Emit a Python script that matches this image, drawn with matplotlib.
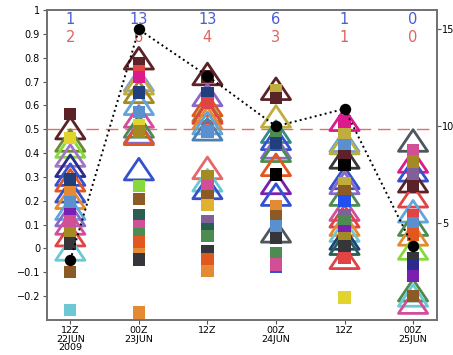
import matplotlib
matplotlib.use("Agg")
import matplotlib.pyplot as plt
from matplotlib.path import Path
import numpy as np

# verification times
times = ['12Z\n22JUN\n2009', '00Z\n23JUN', '12Z', '00Z\n24JUN', '12Z', '00Z\n25JUN']

# counts printed along the top
count_blue = [1, 13, 13, 6, 1, 0]
count_red = [2, 6, 4, 3, 1, 0]

# dotted-line series (right axis)
dot_vals = [3.1, 15.0, 12.6, 10.0, 10.9, 3.8]

pal = {
    'maroon': '#5b2228', 'yellow': '#e2d42e', 'olive': '#a38a22', 'khaki': '#bfae3e',
    'navy': '#203f7c', 'orange': '#e48a32', 'steel': '#5a8fd0', 'purple': '#7a1fb0',
    'violet': '#8a68c8', 'pink': '#d24f98', 'magenta': '#dd1a8c', 'dgray': '#35363a',
    'brown': '#8c5a24', 'cyan': '#6cc8d2', 'lgreen': '#86d83c', 'green': '#4c8c50',
    'teal': '#2b5e52', 'red': '#e04444', 'ored': '#e2561f', 'blue': '#3452d0',
    'lblue': '#62a4dc', 'gray': '#4e565e', 'black': '#000000', 'mauve': '#806098',
    'salmon': '#e46a6a', 'lav': '#a274c8', 'oliveg': '#6c8a34', 'indigo': '#2c2a8c',
    'slate': '#8aa6c0', 'slate2': '#5080b0', 'gold': '#e0b030', 'teal2': '#3a8a8a',
    'bblue': '#2050f0',
}

# open triangles, one list per time
tri_vals = [
    [0.505, 0.453, 0.428, 0.39, 0.347, 0.31, 0.286, 0.24, 0.213, 0.167, 0.14, 0.105, 0.056, -0.004],
    [0.798, 0.707, 0.693, 0.657, 0.607, 0.554, 0.512, 0.487, 0.481, 0.333],
    [0.732, 0.644, 0.602, 0.579, 0.57, 0.547, 0.526, 0.5, 0.338, 0.286, 0.254],
    [0.67, 0.554, 0.49, 0.46, 0.424, 0.41, 0.351, 0.275, 0.226, 0.072],
    [0.54, 0.452, 0.442, 0.382, 0.296, 0.275, 0.226, 0.163, 0.135, 0.10, 0.075, 0.042, 0.02, -0.039],
    [0.453, 0.365, 0.328, 0.282, 0.219, 0.156, 0.10, 0.059, 0.0, -0.175, -0.197, -0.227],
]
tri_cols = [
    ['maroon', 'oliveg', 'lgreen', 'lav', 'indigo', 'blue', 'ored', 'blue', 'orange', 'lblue',
     'violet', 'pink', 'red', 'cyan'],
    ['maroon', 'slate', 'khaki', 'olive', 'lblue', 'pink', 'green', 'violet', 'ored', 'blue'],
    ['maroon', 'violet', 'ored', 'olive', 'red', 'orange', 'lblue', 'slate2', 'salmon', 'cyan', 'blue'],
    ['maroon', 'khaki', 'teal2', 'blue', 'violet', 'green', 'ored', 'purple', 'blue', 'gray'],
    ['magenta', 'lblue', 'khaki', 'dgray', 'blue', 'violet', 'green', 'pink', 'red', 'orange',
     'cyan', 'navy', 'teal', 'red'],
    ['gray', 'magenta', 'blue', 'maroon', 'red', 'lblue', 'green', 'orange', 'lgreen', 'green',
     'cyan', 'pink'],
]

# filled squares, one list per time
sq_vals = [
    [0.565, 0.463, 0.289, 0.236, 0.194, 0.145, 0.114, 0.066, 0.021, -0.10, -0.258],
    [0.777, 0.746, 0.718, 0.654, 0.574, 0.519, 0.491, 0.261, 0.208, 0.142, 0.093, 0.059,
     -0.011, 0.028, -0.046, -0.269],
    [0.721, 0.651, 0.61, 0.491, 0.303, 0.261, 0.219, 0.181, 0.114, 0.08, 0.051, -0.011,
     -0.046, -0.095],
    [0.665, 0.63, 0.477, 0.442, 0.31, 0.177, 0.135, 0.093, 0.045, -0.018, -0.078, -0.067],
    [0.533, 0.48, 0.435, 0.386, 0.351, 0.275, 0.24, 0.198, 0.142, 0.114, 0.072, 0.045,
     0.01, -0.039, -0.206],
    [0.414, 0.365, 0.31, 0.261, 0.142, 0.108, 0.059, -0.039, -0.074, -0.116, -0.2],
]
sq_cols = [
    ['maroon', 'yellow', 'navy', 'orange', 'steel', 'purple', 'pink', 'olive', 'dgray', 'brown', 'cyan'],
    ['maroon', 'red', 'magenta', 'navy', 'steel', 'yellow', 'olive', 'lgreen', 'brown', 'teal',
     'pink', 'green', 'orange', 'ored', 'dgray', 'orange'],
    ['maroon', 'navy', 'red', 'steel', 'olive', 'pink', 'brown', 'gold', 'mauve', 'teal',
     'green', 'dgray', 'ored', 'orange'],
    ['khaki', 'maroon', 'green', 'navy', 'black', 'orange', 'brown', 'steel', 'dgray', 'green',
     'blue', 'pink'],
    ['magenta', 'khaki', 'steel', 'maroon', 'black', 'khaki', 'brown', 'bblue', 'mauve', 'green',
     'purple', 'olive', 'dgray', 'red', 'yellow'],
    ['pink', 'olive', 'mauve', 'maroon', 'red', 'steel', 'ored', 'dgray', 'indigo', 'purple', 'brown'],
]

plt.rcParams['font.family'] = 'DejaVu Sans'

fig = plt.figure(figsize=(4.53, 3.55), dpi=100)
ax = fig.add_axes([0.1038, 0.0986, 0.861, 0.873])

# wide, short open triangle
tri = Path([(0, 1), (-1.35, -1), (1.35, -1), (0, 1)], closed=True)

ax.axhline(0.5, color='#e07070', lw=1.0, dashes=(9, 5), zorder=1)

for i in range(len(times)):
    ax.scatter([i] * len(tri_vals[i]), tri_vals[i], marker=tri, s=21**2,
               facecolors='none', edgecolors=[pal[c] for c in tri_cols[i]],
               linewidths=2.0, zorder=2)
for i in range(len(times)):
    ax.scatter([i] * len(sq_vals[i]), sq_vals[i], marker='s', s=8.8**2,
               c=[pal[c] for c in sq_cols[i]], linewidths=0, zorder=3)

for i in range(len(times)):
    ax.text(i, 0.968, str(count_blue[i]), transform=ax.get_xaxis_transform(),
            ha='center', va='center', fontsize=10.5, color='#4a5cd6')
    ax.text(i, 0.91, str(count_red[i]), transform=ax.get_xaxis_transform(),
            ha='center', va='center', fontsize=10.5, color='#e06262')

ax.set_xlim(-0.34, 5.35)
ax.set_ylim(-0.3, 1.0)
yt = np.round(np.arange(-0.2, 1.01, 0.1), 1)
ax.set_yticks(yt)
ax.set_yticklabels(['1' if v == 1 else '0' if v == 0 else f'{v:g}'.replace('-', '\u2212')
                    for v in yt])
ax.set_xticks(range(len(times)))
ax.set_xticklabels(times, linespacing=0.9)
ax.tick_params(axis='both', labelsize=7, length=3, width=0.8, direction='out',
               color='#555555', pad=2)
ax.tick_params(axis='x', labelsize=6.8, pad=1.5)

ax2 = ax.twinx()
ax2.plot(range(len(times)), dot_vals, color='black', ls=':', lw=1.4,
         marker='o', ms=7.2, zorder=5)
ax2.set_ylim(0, 16)
ax2.set_yticks([5, 10, 15])
ax2.tick_params(axis='y', labelsize=7, length=3, width=0.8, direction='out',
                color='#555555', pad=0.5)

for a in (ax, ax2):
    for side in a.spines.values():
        side.set_color('#707070')
        side.set_linewidth(1.2)

fig.savefig('out.png', dpi=100)
